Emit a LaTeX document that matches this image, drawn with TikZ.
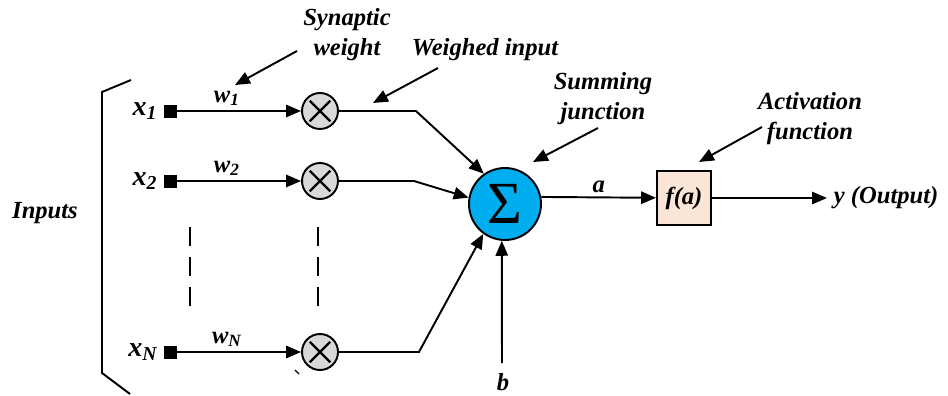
\documentclass[tikz,border=0pt]{standalone}
\usepackage{fontspec}
\setmainfont{Liberation Serif}
\usetikzlibrary{positioning,arrows.meta,calc}
\definecolor{sumblue}{HTML}{00AEEF}
\definecolor{multgray}{HTML}{D9D9D9}
\definecolor{actpeach}{HTML}{FBE5D6}

\begin{document}
\begin{tikzpicture}[x=0.02cm, y=-0.02cm, line width=1.1pt,
  font=\fontsize{14}{17}\selectfont\bfseries\itshape,
  >={Triangle[length=8.5pt,width=7pt]},
  inbox/.style={fill=black, minimum size=7.4pt, inner sep=0pt},
  mult/.style={circle, draw, fill=multgray, minimum size=0.72cm, inner sep=0pt,
    path picture={\draw[line width=1.4pt] (path picture bounding box.center) ++(45:0.29cm) -- ++(225:0.58cm)
      (path picture bounding box.center) ++(135:0.29cm) -- ++(-45:0.58cm);}},
  sumnode/.style={circle, draw, fill=sumblue, minimum size=1.44cm, inner sep=0pt,
    font=\fontsize{34}{34}\selectfont\normalfont},
  actbox/.style={draw, fill=actpeach, minimum size=1.08cm, inner sep=0pt},
  vdash/.style={dash pattern=on 10.8pt off 6.2pt},
  note/.style={align=center}]
\useasboundingbox (0,0) rectangle (948,396);

% inputs with their bracket
\node at (45,213) {Inputs};
\draw (131,80) -- (102,92) -- (102,373) -- (130,394);
\foreach \k/\y/\s in {1/111/1, 2/181/2, N/352/N} {
  \node[inbox] (x\k) at (170,\y) {};
  \node[left=-1pt of x\k, font=\fontsize{16}{17}\selectfont\bfseries\itshape] (lx\k) {x\textsubscript{\s}};
  \node[mult] (m\k) at (320,\y) {};
  \draw[->] (x\k) -- node[above=-1pt, pos=0.4] (w\k) {w\textsubscript{\s}} (m\k);
}
\draw[vdash] (190,227) -- (190,306);
\draw[vdash] (318,227) -- (318,306);
\draw[line width=0.8pt] (295,370) -- (299,374);

% summing junction, bias and activation
\node[sumnode] (sum) at (505,204) {Σ};
\node[actbox] (act) at (684,198) {f(a)};
\draw[->] (m1.east) -- ++(77,0) -- (sum.125);
\draw[->] (m2.east) -- ++(75,0) -- (sum.170);
\draw[->] (mN.east) -- ++(80,0) -- (sum.234);
\coordinate (bstart) at (502,363);
\node (b) at (503,382) {b};
\draw[->] (bstart) -- (sum.265);
\draw[->] (sum.11) -- node[above=-1pt] (a) {a} (act);
\coordinate (yout) at (827,198);
\draw[->] (act) -- (yout);
\node[right=0pt of yout] (ylbl) {y (Output)};

% annotations
\node[note] (synlbl) at (347,35) {Synaptic\\weight};
\node[note] (wlbl) at (485,50) {Weighed input};
\node[note] (sumlbl) at (603,99) {Summing\\junction};
\node[note] (actlbl) at (810,119) {Activation\\function};
\coordinate (synT) at (297,51);  \coordinate (synH) at (235,85);
\coordinate (wT) at (438,68);    \coordinate (wH) at (373,103);
\coordinate (sumT) at (598,128); \coordinate (sumH) at (533,162);
\coordinate (actT) at (762,127); \coordinate (actH) at (699,162);
\draw[->] (synT) -- (synH);
\draw[->] (wT) -- (wH);
\draw[->] (sumT) -- (sumH);
\draw[->] (actT) -- (actH);
\end{tikzpicture}
\end{document}
